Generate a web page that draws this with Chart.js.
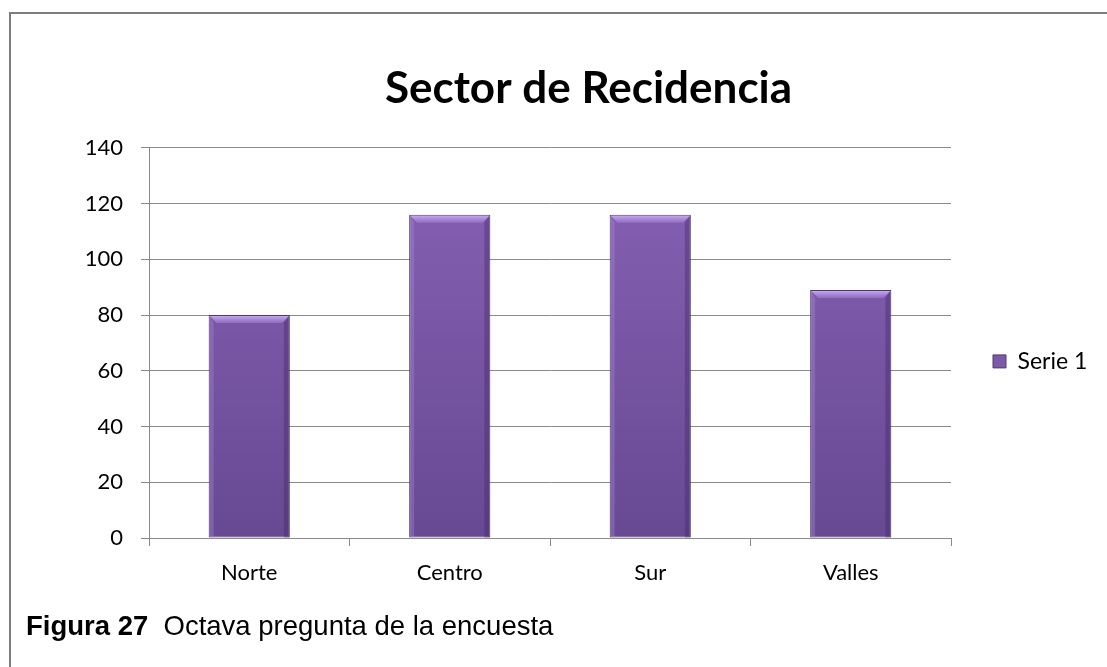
<!DOCTYPE html>
<html><head><meta charset="utf-8">
<script src="https://cdn.jsdelivr.net/npm/chart.js@4.4.0/dist/chart.umd.min.js"></script>
<style>
html,body{margin:0;padding:0;background:#fff;}
#wrap{position:relative;width:1107px;height:667px;overflow:hidden;background:#fff;}
#frame{position:absolute;left:9px;top:12px;width:1200px;height:800px;border-left:2px solid #7c7c7c;border-top:2px solid #7c7c7c;pointer-events:none;}
#cap{position:absolute;left:26px;top:612px;font-family:"Liberation Sans",Arial,sans-serif;font-size:27.5px;line-height:27px;color:#000;white-space:nowrap;}
canvas{position:absolute;left:0;top:0;}
</style></head>
<body><div id="wrap"><canvas id="c" width="1107" height="667" style="width:1107px;height:667px"></canvas><div id="frame"></div><div id="cap"><b>Figura 27</b>&nbsp; Octava pregunta de la encuesta</div></div>
<script>
const categories = ['Norte', 'Centro', 'Sur', 'Valles'];
const serie1 = [80, 116, 116, 89];
const seriesLabel = 'Serie 1';
const yTicks = [0, 20, 40, 60, 80, 100, 120, 140];
const chartTitle = 'Sector de Recidencia';

const FONT = 'Lato, "Open Sans", sans-serif';

function barGradient(ctx) {
  const chart = ctx.chart;
  const ca = chart.chartArea;
  if (!ca) return '#7b5ba6';
  const g = chart.ctx.createLinearGradient(0, ca.top, 0, ca.bottom);
  g.addColorStop(0, '#8962b6');
  g.addColorStop(1, '#674993');
  return g;
}

const bevel = {
  id: 'bevel',
  afterDatasetsDraw(chart) {
    const c = chart.ctx;
    chart.getDatasetMeta(0).data.forEach(el => {
      const {x, y, base, width} = el.getProps(['x', 'y', 'base', 'width'], true);
      const l = x - width / 2, r = x + width / 2, b = 8;
      c.save();
      c.beginPath();
      c.moveTo(l + 1, y + 1); c.lineTo(r - 1, y + 1); c.lineTo(r - b, y + b); c.lineTo(l + b, y + b); c.closePath();
      const gt = c.createLinearGradient(0, y, 0, y + b);
      gt.addColorStop(0, 'rgba(210,185,250,0.95)');
      gt.addColorStop(1, 'rgba(160,125,210,0.6)');
      c.fillStyle = gt; c.fill();
      c.beginPath();
      c.moveTo(r - 1, y + 1); c.lineTo(r - 1, base); c.lineTo(r - b + 2, base); c.lineTo(r - b + 2, y + b); c.closePath();
      c.fillStyle = 'rgba(60,35,95,0.35)'; c.fill();
      c.beginPath();
      c.moveTo(l + 1, y + 1); c.lineTo(l + b - 3, y + b); c.lineTo(l + b - 3, base); c.lineTo(l + 1, base); c.closePath();
      c.fillStyle = 'rgba(170,140,215,0.35)'; c.fill();
      c.restore();
    });
  }
};

new Chart(document.getElementById('c'), {
  type: 'bar',
  data: {
    labels: categories,
    datasets: [{
      label: seriesLabel,
      data: serie1,
      backgroundColor: barGradient,
      borderColor: '#4e3a70',
      borderWidth: 1,
      borderSkipped: false,
      categoryPercentage: 1.0,
      barPercentage: 0.405
    }]
  },
  options: {
    responsive: false,
    animation: false,
    devicePixelRatio: 1,
    layout: { padding: { left: 82, right: 12, top: 0, bottom: 79 } },
    plugins: {
      title: {
        display: true,
        text: chartTitle,
        color: '#000',
        font: { family: FONT, size: 44, weight: 'bold', lineHeight: 1.2 },
        padding: { top: 62, bottom: 33 }
      },
      legend: {
        position: 'right',
        fullSize: false,
        maxWidth: 144,
        title: { display: true, text: '', font: { size: 10, lineHeight: 1 }, padding: { top: 27, bottom: 0 } },
        labels: {
          boxWidth: 13, boxHeight: 13, padding: 42,
          color: '#000',
          font: { family: FONT, size: 23 },
          generateLabels(chart) {
            const items = Chart.defaults.plugins.legend.labels.generateLabels(chart);
            items.forEach(it => { it.fillStyle = '#7c5aa8'; it.strokeStyle = '#4e3a70'; it.lineWidth = 1; });
            return items;
          }
        }
      },
      tooltip: { enabled: false }
    },
    scales: {
      x: {
        afterFit(s) { s.height = 50; },
        grid: { offset: true, drawOnChartArea: false, drawTicks: true, tickLength: 8, color: '#8a8a8a', lineWidth: 1 },
        border: { display: true, color: '#8a8a8a', width: 1 },
        ticks: { color: '#000', padding: 14, font: { family: FONT, size: 22 } }
      },
      y: {
        min: 0, max: 140,
        afterFit(s) { s.width = 67; },
        afterBuildTicks(s) { s.ticks = yTicks.map(v => ({ value: v })); },
        grid: { drawOnChartArea: true, drawTicks: true, tickLength: 8, color: '#8a8a8a', lineWidth: 1 },
        border: { display: true, color: '#8a8a8a', width: 1 },
        ticks: { color: '#000', padding: 18, font: { family: FONT, size: 22 } }
      }
    }
  },
  plugins: [bevel]
});
</script>
</body></html>
